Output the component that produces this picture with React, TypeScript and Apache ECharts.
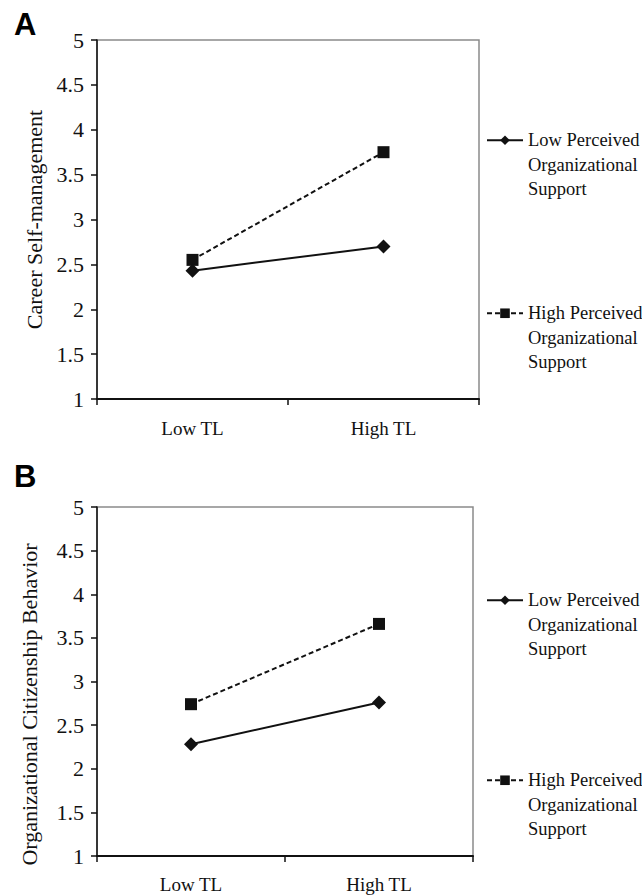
import React, { useEffect, useRef } from "react";
import * as echarts from "echarts";

const categories = ["Low TL", "High TL"];
const seriesNames = [
  "Low Perceived Organizational Support",
  "High Perceived Organizational Support",
];
const careerLowPOS = [2.43, 2.7];
const careerHighPOS = [2.55, 3.75];
const ocbLowPOS = [2.28, 2.76];
const ocbHighPOS = [2.74, 3.66];
const yAxisNames = ["Career Self-management", "Organizational Citizenship Behavior"];
const panelLetters = ["A", "B"];
const yMin = 1;
const yMax = 5;
const yStep = 0.5;

const SERIF = "Liberation Serif";
const INK = "#111";

export default function App() {
  const ref = useRef<HTMLDivElement>(null);

  useEffect(() => {
    document.body.style.margin = "0";
    if (!ref.current) return;
    const chart = echarts.init(ref.current, undefined, { renderer: "svg" });

    const grids = [
      { left: 97, top: 40, width: 382, height: 359 },
      { left: 97, top: 507, width: 376, height: 349 },
    ];

    const xAxis = grids.map((_, i) => ({
      type: "category",
      gridIndex: i,
      data: categories,
      boundaryGap: true,
      axisLine: { lineStyle: { color: INK, width: 2 } },
      axisTick: { show: true, length: 6, lineStyle: { color: INK, width: 1.5 } },
      axisLabel: {
        margin: i === 0 ? 20 : 19,
        fontFamily: SERIF,
        fontSize: 19,
        color: INK,
      },
      splitLine: { show: false },
    }));

    const yAxis = grids.map((_, i) => ({
      type: "value",
      gridIndex: i,
      min: yMin,
      max: yMax,
      interval: yStep,
      name: yAxisNames[i],
      nameLocation: "middle",
      nameGap: i === 0 ? 49 : 57,
      nameTextStyle: {
        fontFamily: SERIF,
        fontSize: 22,
        color: INK,
        padding: i === 0 ? 0 : [0, 46, 0, 0],
      },
      axisLine: { show: true, lineStyle: { color: INK, width: 1.5 } },
      axisTick: { show: true, length: 6, lineStyle: { color: INK, width: 1.5 } },
      axisLabel: {
        margin: 13,
        fontFamily: SERIF,
        fontSize: 22,
        color: INK,
      },
      splitLine: { show: false },
    }));

    const lowStyle = {
      type: "line",
      symbol: "diamond",
      symbolSize: 14,
      lineStyle: { color: INK, width: 2, type: "solid" },
      itemStyle: { color: INK },
    };
    const highStyle = {
      type: "line",
      symbol: "rect",
      symbolSize: 12,
      lineStyle: { color: INK, width: 2, type: [5, 3] },
      itemStyle: { color: INK },
    };

    const data = [
      [careerLowPOS, careerHighPOS],
      [ocbLowPOS, ocbHighPOS],
    ];

    const series: any[] = [];
    data.forEach((pair, i) => {
      series.push({
        ...lowStyle,
        name: seriesNames[0],
        xAxisIndex: i,
        yAxisIndex: i,
        data: pair[0],
        z: 3,
      });
      series.push({
        ...highStyle,
        name: seriesNames[1],
        xAxisIndex: i,
        yAxisIndex: i,
        data: pair[1],
        z: 2,
      });
    });

    // two blank lines on top so the icon sits beside the first text line
    const legendBase = {
      orient: "vertical",
      left: 486,
      padding: 0,
      itemWidth: 36,
      itemHeight: 12,
      selectedMode: false,
      data: seriesNames,
      formatter: (name: string) =>
        " \n \n" +
        name.replace(" Organizational", "\nOrganizational").replace(" Support", "\nSupport"),
      textStyle: {
        fontFamily: SERIF,
        fontSize: 18.5,
        lineHeight: 24.5,
        color: INK,
      },
    };

    chart.setOption({
      animation: false,
      backgroundColor: "#fff",
      textStyle: { fontFamily: SERIF },
      grid: grids.map((g) => ({
        ...g,
        show: true,
        borderColor: "#8a8a8a",
        borderWidth: 1.5,
        backgroundColor: "transparent",
        containLabel: false,
      })),
      xAxis,
      yAxis,
      legend: [
        { ...legendBase, top: 79, itemGap: 50.5 },
        { ...legendBase, top: 539, itemGap: 57.5 },
      ],
      graphic: panelLetters.map((t, i) => ({
        type: "text",
        left: 14,
        top: i === 0 ? 9 : 461,
        style: {
          text: t,
          font: "bold 31px 'Liberation Sans', Arial, sans-serif",
          fill: "#000",
        },
      })),
      series,
    });

    return () => chart.dispose();
  }, []);

  return <div ref={ref} style={{ width: 642, height: 895 }} />;
}
